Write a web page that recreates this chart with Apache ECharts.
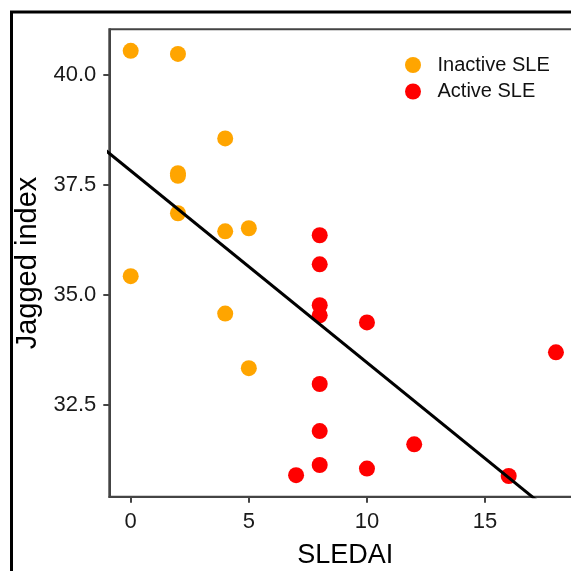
<!DOCTYPE html>
<html>
<head>
<meta charset="utf-8">
<script src="https://cdn.jsdelivr.net/npm/echarts@6/dist/echarts.min.js"></script>
<style>
  html, body { margin: 0; padding: 0; background: #fff; }
  #main { width: 571px; height: 571px; }
</style>
</head>
<body>
<div id="main"></div>
<script>
// SLEDAI score vs jagged index
const inactiveX = [0, 2, 4, 2, 2, 2, 4, 5, 0, 4, 5];
const inactiveY = [40.55, 40.48, 38.56, 37.77, 37.71, 36.86, 36.45, 36.52, 35.43, 34.58, 33.34];

const activeX = [8, 8, 8, 8, 10, 18, 8, 8, 12, 8, 10, 7, 16];
const activeY = [36.36, 35.70, 34.77, 34.54, 34.38, 33.70, 32.98, 31.91, 31.61, 31.14, 31.06, 30.91, 30.89];

// fitted line
const fitIntercept = 37.825;
const fitSlope = -0.4358;
const fitRange = [-2, 20];

const xTicks = [0, 5, 10, 15];
const yTicks = [32.5, 35.0, 37.5, 40.0];

const seriesNames = ["Inactive SLE", "Active SLE"];

const zip = (xs, ys) => xs.map((x, i) => [x, ys[i]]);

let myChart = echarts.init(document.getElementById("main"));

const font = "Liberation Sans, Arial, sans-serif";
const axisCol = "#444";

let option = {
  backgroundColor: "#fff",
  animation: false,
  textStyle: { fontFamily: font },
  graphic: [
    // outer frame (cropped on right/bottom)
    {
      type: "rect",
      shape: { x: 11.5, y: 12, width: 600, height: 600 },
      style: { fill: "none", stroke: "#000", lineWidth: 3 },
      z: 10
    }
  ],
  legend: {
    orient: "vertical",
    left: 405,
    top: 55,
    padding: 0,
    itemWidth: 39,
    itemHeight: 16,
    itemGap: 6.5,
    icon: "circle",
    textStyle: { fontSize: 20, color: "#111", fontFamily: font },
    data: seriesNames
  },
  grid: {
    left: 109.3,
    top: 29.3,
    right: -10,
    bottom: 74.3,
    outerBoundsMode: "none",
    containLabel: false,
    show: true,
    borderColor: axisCol,
    borderWidth: 2
  },
  xAxis: {
    type: "value",
    min: -0.906,
    max: 19.06,
    name: "SLEDAI",
    nameLocation: "middle",
    nameGap: 45,
    nameTextStyle: { fontSize: 27, color: "#000", fontFamily: font },
    splitLine: { show: false },
    axisLine: { show: true, onZero: false, lineStyle: { color: axisCol, width: 2 } },
    axisTick: { show: true, customValues: xTicks, length: 6, lineStyle: { color: axisCol, width: 2 } },
    axisLabel: { customValues: xTicks, fontSize: 22, color: "#1a1a1a", margin: 14 }
  },
  yAxis: {
    type: "value",
    min: 30.42,
    max: 41.04,
    name: "Jagged index",
    nameLocation: "middle",
    nameGap: 62,
    nameTextStyle: { fontSize: 29, color: "#000", fontFamily: font },
    splitLine: { show: false },
    axisLine: { show: true, onZero: false, lineStyle: { color: axisCol, width: 2 } },
    axisTick: { show: true, customValues: yTicks, length: 6, lineStyle: { color: axisCol, width: 2 } },
    axisLabel: {
      customValues: yTicks,
      fontSize: 22,
      color: "#1a1a1a",
      margin: 13,
      formatter: v => v.toFixed(1)
    }
  },
  series: [
    {
      name: seriesNames[0],
      type: "scatter",
      symbolSize: 16,
      itemStyle: { color: "#FFA500", opacity: 1 },
      data: zip(inactiveX, inactiveY),
      z: 2
    },
    {
      name: seriesNames[1],
      type: "scatter",
      symbolSize: 16,
      itemStyle: { color: "#FF0000", opacity: 1 },
      data: zip(activeX, activeY),
      z: 2
    },
    {
      name: "fit",
      type: "line",
      showSymbol: false,
      clip: true,
      lineStyle: { color: "#000", width: 3 },
      data: fitRange.map(x => [x, fitIntercept + fitSlope * x]),
      z: 3,
      silent: true
    }
  ]
};

myChart.setOption(option);
</script>
</body>
</html>
